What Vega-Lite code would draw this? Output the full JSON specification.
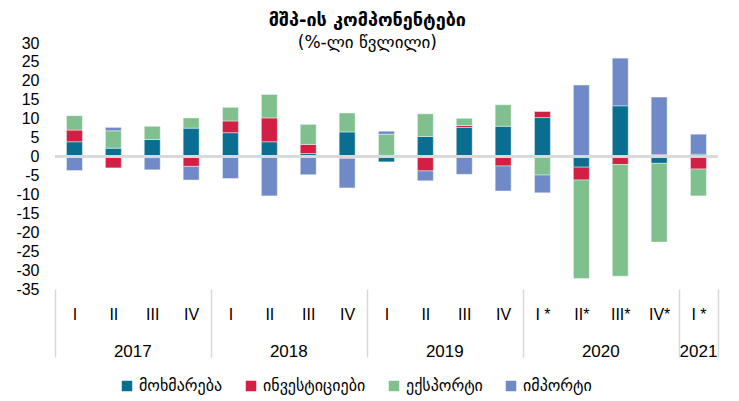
{
  "$schema": "https://vega.github.io/schema/vega-lite/v6.json",
  "padding": {"left": 15, "top": 12, "right": 5, "bottom": 2},
  "title": {
    "text": "მშპ-ის კომპონენტები",
    "subtitle": "(%-ლი წვლილი)",
    "anchor": "middle",
    "frame": "bounds",
    "font": "DejaVu Sans",
    "fontSize": 18,
    "fontWeight": "bold",
    "color": "#000",
    "subtitleFont": "DejaVu Sans",
    "subtitleFontSize": 17,
    "subtitleColor": "#000",
    "subtitlePadding": 5,
    "offset": -16
  },
  "data": {
    "values": [
      {"year": "2017", "k": "2017|I", "s": "მოხმარება", "o": 1, "v": 3.9},
      {"year": "2017", "k": "2017|I", "s": "ინვესტიციები", "o": 2, "v": 3.1},
      {"year": "2017", "k": "2017|I", "s": "ექსპორტი", "o": 3, "v": 3.8},
      {"year": "2017", "k": "2017|I", "s": "იმპორტი", "o": 4, "v": -3.7},
      {"year": "2017", "k": "2017|II", "s": "მოხმარება", "o": 1, "v": 2.2},
      {"year": "2017", "k": "2017|II", "s": "ინვესტიციები", "o": 2, "v": -3.0},
      {"year": "2017", "k": "2017|II", "s": "ექსპორტი", "o": 3, "v": 4.6},
      {"year": "2017", "k": "2017|II", "s": "იმპორტი", "o": 4, "v": 0.9},
      {"year": "2017", "k": "2017|III", "s": "მოხმარება", "o": 1, "v": 4.5},
      {"year": "2017", "k": "2017|III", "s": "ინვესტიციები", "o": 2, "v": -0.3},
      {"year": "2017", "k": "2017|III", "s": "ექსპორტი", "o": 3, "v": 3.5},
      {"year": "2017", "k": "2017|III", "s": "იმპორტი", "o": 4, "v": -3.2},
      {"year": "2017", "k": "2017|IV", "s": "მოხმარება", "o": 1, "v": 7.5},
      {"year": "2017", "k": "2017|IV", "s": "ინვესტიციები", "o": 2, "v": -2.6},
      {"year": "2017", "k": "2017|IV", "s": "ექსპორტი", "o": 3, "v": 2.7},
      {"year": "2017", "k": "2017|IV", "s": "იმპორტი", "o": 4, "v": -3.6},
      {"year": "2018", "k": "2018|I", "s": "მოხმარება", "o": 1, "v": 6.3},
      {"year": "2018", "k": "2018|I", "s": "ინვესტიციები", "o": 2, "v": 3.1},
      {"year": "2018", "k": "2018|I", "s": "ექსპორტი", "o": 3, "v": 3.6},
      {"year": "2018", "k": "2018|I", "s": "იმპორტი", "o": 4, "v": -5.8},
      {"year": "2018", "k": "2018|II", "s": "მოხმარება", "o": 1, "v": 3.9},
      {"year": "2018", "k": "2018|II", "s": "ინვესტიციები", "o": 2, "v": 6.3},
      {"year": "2018", "k": "2018|II", "s": "ექსპორტი", "o": 3, "v": 6.2},
      {"year": "2018", "k": "2018|II", "s": "იმპორტი", "o": 4, "v": -10.4},
      {"year": "2018", "k": "2018|III", "s": "მოხმარება", "o": 1, "v": 0.8},
      {"year": "2018", "k": "2018|III", "s": "ინვესტიციები", "o": 2, "v": 2.4},
      {"year": "2018", "k": "2018|III", "s": "ექსპორტი", "o": 3, "v": 5.3},
      {"year": "2018", "k": "2018|III", "s": "იმპორტი", "o": 4, "v": -4.8},
      {"year": "2018", "k": "2018|IV", "s": "მოხმარება", "o": 1, "v": 6.5},
      {"year": "2018", "k": "2018|IV", "s": "ინვესტიციები", "o": 2, "v": -0.5},
      {"year": "2018", "k": "2018|IV", "s": "ექსპორტი", "o": 3, "v": 5.0},
      {"year": "2018", "k": "2018|IV", "s": "იმპორტი", "o": 4, "v": -7.8},
      {"year": "2019", "k": "2019|I", "s": "მოხმარება", "o": 1, "v": -1.4},
      {"year": "2019", "k": "2019|I", "s": "ინვესტიციები", "o": 2, "v": 0.3},
      {"year": "2019", "k": "2019|I", "s": "ექსპორტი", "o": 3, "v": 5.6},
      {"year": "2019", "k": "2019|I", "s": "იმპორტი", "o": 4, "v": 0.8},
      {"year": "2019", "k": "2019|II", "s": "მოხმარება", "o": 1, "v": 5.3},
      {"year": "2019", "k": "2019|II", "s": "ინვესტიციები", "o": 2, "v": -3.8},
      {"year": "2019", "k": "2019|II", "s": "ექსპორტი", "o": 3, "v": 6.0},
      {"year": "2019", "k": "2019|II", "s": "იმპორტი", "o": 4, "v": -2.6},
      {"year": "2019", "k": "2019|III", "s": "მოხმარება", "o": 1, "v": 7.7},
      {"year": "2019", "k": "2019|III", "s": "ინვესტიციები", "o": 2, "v": 0.5},
      {"year": "2019", "k": "2019|III", "s": "ექსპორტი", "o": 3, "v": 1.9},
      {"year": "2019", "k": "2019|III", "s": "იმპორტი", "o": 4, "v": -4.7},
      {"year": "2019", "k": "2019|IV", "s": "მოხმარება", "o": 1, "v": 8.0},
      {"year": "2019", "k": "2019|IV", "s": "ინვესტიციები", "o": 2, "v": -2.5},
      {"year": "2019", "k": "2019|IV", "s": "ექსპორტი", "o": 3, "v": 5.7},
      {"year": "2019", "k": "2019|IV", "s": "იმპორტი", "o": 4, "v": -6.6},
      {"year": "2020", "k": "2020|I *", "s": "მოხმარება", "o": 1, "v": 10.3},
      {"year": "2020", "k": "2020|I *", "s": "ინვესტიციები", "o": 2, "v": 1.6},
      {"year": "2020", "k": "2020|I *", "s": "ექსპორტი", "o": 3, "v": -4.9},
      {"year": "2020", "k": "2020|I *", "s": "იმპორტი", "o": 4, "v": -4.7},
      {"year": "2020", "k": "2020|II*", "s": "მოხმარება", "o": 1, "v": -2.8},
      {"year": "2020", "k": "2020|II*", "s": "ინვესტიციები", "o": 2, "v": -3.4},
      {"year": "2020", "k": "2020|II*", "s": "ექსპორტი", "o": 3, "v": -26.0},
      {"year": "2020", "k": "2020|II*", "s": "იმპორტი", "o": 4, "v": 18.9},
      {"year": "2020", "k": "2020|III*", "s": "მოხმარება", "o": 1, "v": 13.4},
      {"year": "2020", "k": "2020|III*", "s": "ინვესტიციები", "o": 2, "v": -2.1},
      {"year": "2020", "k": "2020|III*", "s": "ექსპორტი", "o": 3, "v": -29.5},
      {"year": "2020", "k": "2020|III*", "s": "იმპორტი", "o": 4, "v": 12.6},
      {"year": "2020", "k": "2020|IV*", "s": "მოხმარება", "o": 1, "v": -1.8},
      {"year": "2020", "k": "2020|IV*", "s": "ინვესტიციები", "o": 2, "v": 0.5},
      {"year": "2020", "k": "2020|IV*", "s": "ექსპორტი", "o": 3, "v": -20.8},
      {"year": "2020", "k": "2020|IV*", "s": "იმპორტი", "o": 4, "v": 15.2},
      {"year": "2021", "k": "2021|I *", "s": "მოხმარება", "o": 1, "v": 0.6},
      {"year": "2021", "k": "2021|I *", "s": "ინვესტიციები", "o": 2, "v": -3.3},
      {"year": "2021", "k": "2021|I *", "s": "ექსპორტი", "o": 3, "v": -7.1},
      {"year": "2021", "k": "2021|I *", "s": "იმპორტი", "o": 4, "v": 5.3}
    ]
  },
  "facet": {
    "column": {
      "field": "year",
      "type": "ordinal",
      "header": {
        "labelOrient": "bottom",
        "title": null,
        "labelFont": "Liberation Sans",
        "labelFontSize": 17,
        "labelColor": "#000",
        "labelPadding": 55
      }
    }
  },
  "spacing": 0,
  "bounds": "flush",
  "resolve": {"scale": {"x": "independent"}},
  "spec": {
    "width": {"step": 38.9},
    "height": 246,
    "layer": [
      {
        "mark": {"type": "bar", "width": {"band": 0.41}, "stroke": "white", "strokeWidth": 0.6, "strokeOpacity": 0.7},
        "encoding": {
          "x": {
            "field": "k",
            "type": "nominal",
            "sort": null,
            "scale": {"paddingInner": 0, "paddingOuter": 0},
            "axis": {
              "title": null,
              "domain": false,
              "labelExpr": "split(datum.value, '|')[1]",
              "labelAngle": 0,
              "labelFont": "Liberation Sans",
              "labelFontSize": 16,
              "labelColor": "#000",
              "tickBand": "extent",
              "tickSize": 68,
              "tickColor": "#d9d9d9",
              "tickWidth": 1.5,
              "tickOpacity": {"condition": {"test": "datum.extra || datum.value == '2021|I *'", "value": 1}, "value": 0},
              "labelPadding": -51
            }
          },
          "y": {
            "field": "v",
            "type": "quantitative",
            "stack": "zero",
            "scale": {"domain": [-35, 30], "nice": false},
            "axis": {
              "title": null,
              "values": [-35, -30, -25, -20, -15, -10, -5, 0, 5, 10, 15, 20, 25, 30],
              "tickCount": 20,
              "labelExpr": "'' + datum.value",
              "labelOverlap": false,
              "labelBound": false,
              "domain": false,
              "ticks": false,
              "grid": false,
              "labelFont": "Liberation Sans",
              "labelFontSize": 16,
              "labelColor": "#000",
              "labelPadding": 16
            }
          },
          "color": {
            "field": "s",
            "type": "nominal",
            "sort": ["მოხმარება", "ინვესტიციები", "ექსპორტი", "იმპორტი"],
            "scale": {
              "domain": ["მოხმარება", "ინვესტიციები", "ექსპორტი", "იმპორტი"],
              "range": ["#0a6e91", "#d41f45", "#80c08e", "#6f8ac6"]
            },
            "legend": {
              "orient": "none",
              "legendX": 64,
              "legendY": 335,
              "direction": "horizontal",
              "title": null,
              "symbolType": "square",
              "symbolSize": 110,
              "symbolStrokeWidth": 0,
              "labelFont": "DejaVu Sans",
              "labelFontSize": 16,
              "labelColor": "#000",
              "columnPadding": 20
            }
          },
          "order": {"field": "o", "type": "quantitative"}
        }
      },
      {
        "mark": {"type": "rule", "color": "#d9d9d9", "strokeWidth": 2},
        "encoding": {"y": {"datum": 0}}
      }
    ]
  },
  "config": {
    "view": {"stroke": null},
    "axis": {"labelOverlap": false}
  }
}
